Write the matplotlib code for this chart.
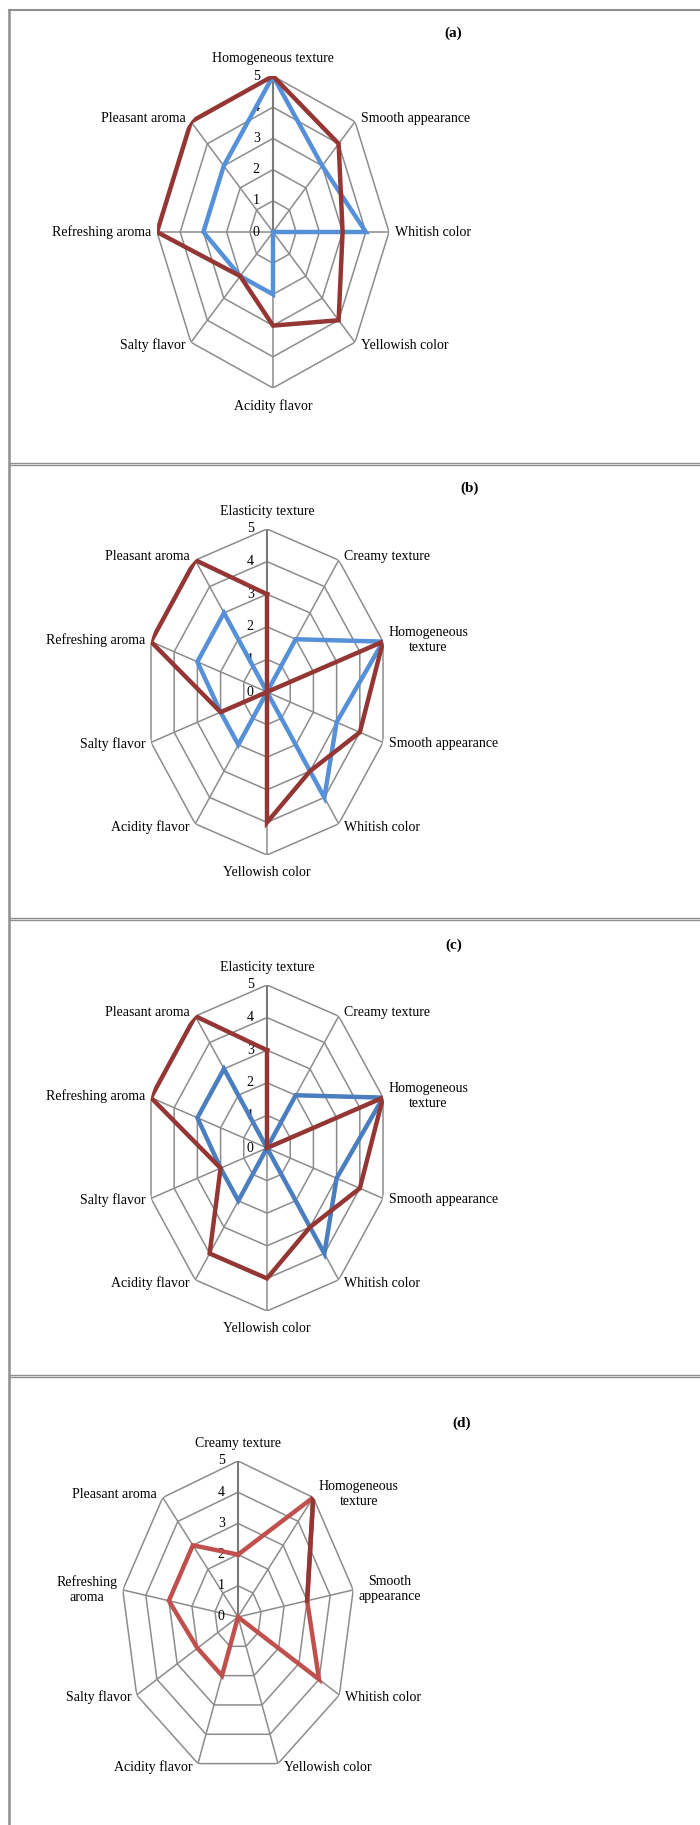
import numpy as np
import matplotlib.pyplot as plt
from matplotlib.lines import Line2D

plt.rcParams['font.family'] = ['Liberation Serif', 'DejaVu Serif']

# attributes per panel, clockwise from the top
attrs_a = ["Homogeneous texture", "Smooth appearance", "Whitish color", "Yellowish color",
           "Acidity flavor", "Salty flavor", "Refreshing aroma", "Pleasant aroma"]
attrs_bc = ["Elasticity texture", "Creamy texture", "Homogeneous\ntexture", "Smooth appearance",
            "Whitish color", "Yellowish color", "Acidity flavor", "Salty flavor",
            "Refreshing aroma", "Pleasant aroma"]
attrs_d = ["Creamy texture", "Homogeneous\ntexture", "Smooth\nappearance", "Whitish color",
           "Yellowish color", "Acidity flavor", "Salty flavor", "Refreshing\naroma", "Pleasant aroma"]

# sensory scores
a_blue = [5, 3, 4, 0, 2, 2, 3, 3]
a_red = [5, 4, 3, 4, 3, 2, 5, 5]
b_blue = [0, 2, 5, 3, 4, 0, 2, 2, 3, 3]
b_red = [3, 0, 5, 4, 3, 4, 0, 2, 5, 5]
c_blue = [0, 2, 5, 3, 4, 0, 2, 2, 3, 3]
c_red = [3, 0, 5, 4, 3, 4, 4, 2, 5, 5]
d_red = [2, 5, 3, 4, 0, 2, 2, 3, 3]

ticks = [0, 1, 2, 3, 4, 5]

W, H = 700, 1825
fig = plt.figure(figsize=(W / 100, H / 100), dpi=100)

GRID = '#8c8c8c'


def radar(cx, cy, rx, ry, labels, series, tag, tag_xy):
    # axes box in pixels -> figure fraction, r=5 touches the box edge
    ax = fig.add_axes([(cx - rx) / W, (H - cy - ry) / H, 2 * rx / W, 2 * ry / H],
                      projection='polar')
    ax.set_aspect('auto')
    ax.set_theta_zero_location('N')
    ax.set_theta_direction(-1)
    ax.set_ylim(0, 5)
    ax.grid(False)
    ax.spines['polar'].set_visible(False)
    ax.set_xticks([])
    ax.set_yticks([])
    ax.patch.set_alpha(0)

    n = len(labels)
    th = np.arange(n) * 2 * np.pi / n
    th_c = np.append(th, th[0])

    # polygon rings and spokes
    for k in ticks[1:]:
        ax.plot(th_c, [k] * (n + 1), color=GRID, lw=1.1, zorder=1)
    for i, t in enumerate(th):
        ax.plot([t, t], [0, 5], color=GRID if i else '#7a7a7a', lw=1.1 if i else 1.5, zorder=1)

    for k in ticks:
        ax.annotate(str(k), xy=(0, k), xytext=(-12, 0), textcoords='offset points',
                    ha='center', va='center', fontsize=10, annotation_clip=False)

    for t, lab in zip(th, labels):
        s, c = np.sin(t), np.cos(t)
        if abs(s) < 1e-6:
            ha = 'center'
            va = 'bottom' if c > 0 else 'top'
            off = (0, 8 * np.sign(c))
        else:
            ha = 'left' if s > 0 else 'right'
            va = 'center'
            off = (4 * np.sign(s), 3 * c)
        ax.annotate(lab, xy=(t, 5), xytext=off, textcoords='offset points',
                    ha=ha, va=va, fontsize=10, multialignment='center',
                    annotation_clip=False)

    for vals, col in series:
        ax.plot(th_c, list(vals) + [vals[0]], color=col, lw=3.2, zorder=3,
                solid_joinstyle='miter')

    fig.text(tag_xy[0] / W, 1 - tag_xy[1] / H, tag, fontsize=11, fontweight='bold',
             ha='center', va='center')
    return ax, th


radar(273, 232, 116, 156, attrs_a,
      [(a_blue, '#5590d8'), (a_red, '#943634')], '(a)', (453, 33))
radar(267, 692, 122, 163, attrs_bc,
      [(b_blue, '#5590d8'), (b_red, '#943634')], '(b)', (470, 488))
radar(267, 1148, 122, 163, attrs_bc,
      [(c_blue, '#4a7ebf'), (c_red, '#943634')], '(c)', (454, 945))
ax_d, th_d = radar(238, 1617, 117, 156, attrs_d,
                   [(d_red, '#c0504d')], '(d)', (462, 1423))
# darker stretch between Homogeneous texture and Smooth appearance
ax_d.plot(th_d[1:3], d_red[1:3], color='#943634', lw=3.2, zorder=4)

# panel frames
BOX = '#8f8f8f'
fig.add_artist(Line2D([9 / W, 9 / W], [0, 1 - 10 / H], color=BOX, lw=1.8))
fig.add_artist(Line2D([9 / W, 1], [1 - 10 / H, 1 - 10 / H], color=BOX, lw=1.5))
for y in [464, 919, 1376]:
    for dy in (-1.3, 1.3):
        yy = 1 - (y + dy) / H
        fig.add_artist(Line2D([9 / W, 1], [yy, yy], color=BOX, lw=1.0))

fig.savefig('out.png', dpi=100)
